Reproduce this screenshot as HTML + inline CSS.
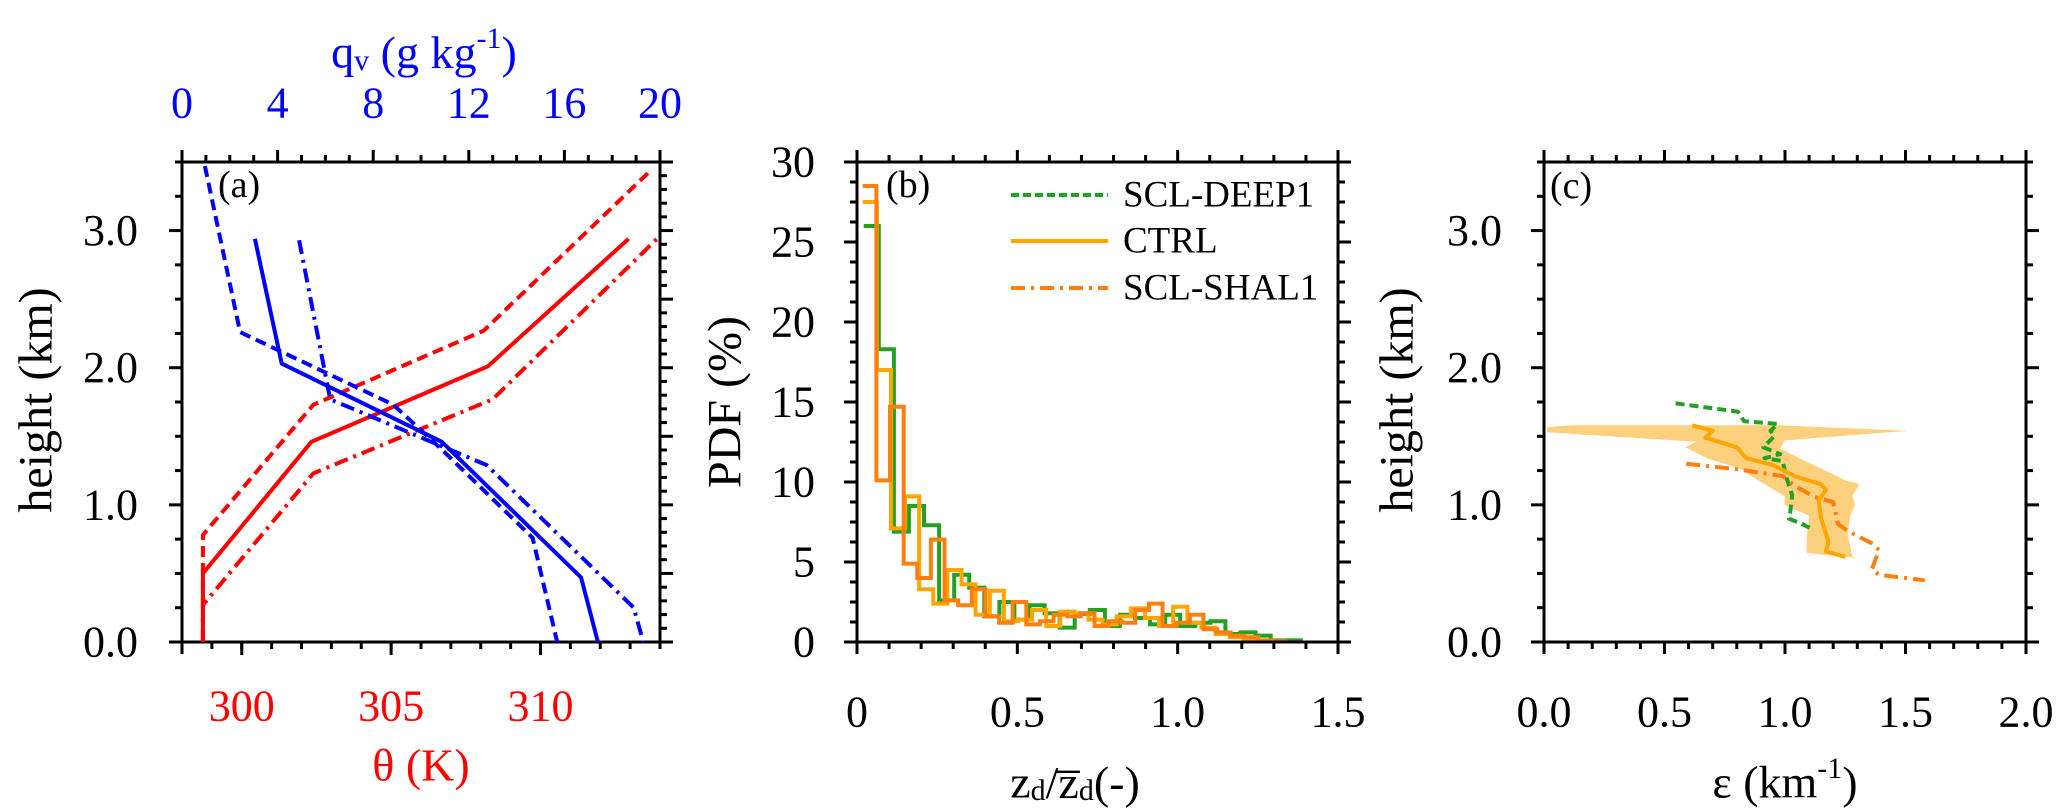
<!DOCTYPE html>
<html><head><meta charset="utf-8"><style>
html,body{margin:0;padding:0;background:#fff;}
svg{display:block;font-family:"Liberation Serif","DejaVu Serif",serif;}
</style></head><body>
<svg id="fig" width="2067" height="808" viewBox="0 0 2067 808" xmlns="http://www.w3.org/2000/svg">
<g id="pa"></g>
<g id="pb"></g>
<g id="pc"></g>
</svg>
<script>
// ---------- Panel (a) data ----------
const thetaCtrlT = [298.7, 298.7, 302.33, 308.24, 312.95];
const thetaCtrlH = [0, 0.5, 1.46, 2.01, 2.94];
const thetaDeepT = [298.7, 298.7, 302.4, 308.1, 313.7];
const thetaDeepH = [0, 0.78, 1.73, 2.27, 3.44];
const thetaShalT = [298.7, 298.7, 302.4, 308.4, 313.9];
const thetaShalH = [0, 0.27, 1.23, 1.77, 2.94];
const qvCtrlQ = [3.05, 4.17, 10.87, 16.7, 17.4];
const qvCtrlH = [2.94, 2.03, 1.46, 0.47, 0];
const qvDeepQ = [0.96, 2.43, 8.84, 10.8, 14.67, 15.7];
const qvDeepH = [3.47, 2.26, 1.73, 1.415, 0.76, 0];
const qvShalQ = [4.9, 6.2, 12.75, 18.9, 19.3];
const qvShalH = [2.93, 1.77, 1.29, 0.25, 0];
const heightTicksA = ["0.0", "1.0", "2.0", "3.0"];
const thetaTickLabels = ["300", "305", "310"];
const qvTickLabels = ["0", "4", "8", "12", "16", "20"];

// ---------- Panel (b) data ----------
const pdfShal = [28.5, 10.1, 14.7, 4.9, 4.0, 6.4, 2.6, 2.3, 3.3, 1.6, 1.2, 2.5, 1.1, 1.3, 1.7, 1.6, 1.8, 1.0, 1.3, 1.2, 2.0, 2.4, 1.0, 1.2, 1.7, 0.8, 0.6, 0.4, 0.3, 0.1, 0.05];
const pdfCtrl = [27.5, 17.0, 7.1, 9.1, 3.3, 2.4, 4.5, 3.6, 1.7, 3.2, 1.3, 1.4, 2.0, 1.0, 1.9, 1.8, 1.4, 1.1, 1.6, 2.1, 1.5, 1.0, 2.2, 1.2, 0.9, 0.5, 0.3, 0.2, 0.1];
const pdfDeep = [26.0, 18.3, 6.9, 8.5, 7.3, 2.6, 4.2, 3.4, 1.6, 2.5, 1.4, 2.3, 1.8, 0.9, 1.75, 2.0, 1.0, 1.7, 1.5, 1.1, 1.7, 1.0, 1.2, 1.3, 0.5, 0.6, 0.4, 0.1, 0.1];
const binStart = [0.018, 0.018, 0.021];
const binWidth = [0.0425, 0.044, 0.047];
const pdfTickLabels = ["0", "5", "10", "15", "20", "25", "30"];
const zdTickLabels = ["0", "0.5", "1.0", "1.5"];
const legendLabels = ["SCL-DEEP1", "CTRL", "SCL-SHAL1"];

// ---------- Panel (c) data ----------
const epsDeepE = [0.546, 0.804, 0.83, 0.97, 0.94, 0.955, 0.91, 0.98, 0.915, 0.99, 1.006, 1.03, 1.02, 1.016, 1.07, 1.117];
const epsDeepH = [1.74, 1.68, 1.61, 1.59, 1.54, 1.50, 1.42, 1.37, 1.34, 1.32, 1.2, 1.07, 0.92, 0.9, 0.86, 0.82];
const epsCtrlE = [0.615, 0.70, 0.67, 0.80, 0.84, 0.95, 1.04, 1.15, 1.17, 1.14, 1.15, 1.18, 1.17, 1.25];
const epsCtrlH = [1.58, 1.54, 1.49, 1.42, 1.34, 1.29, 1.21, 1.15, 1.11, 1.03, 0.90, 0.73, 0.66, 0.62];
const epsShalE = [0.59, 0.80, 0.99, 1.04, 1.12, 1.20, 1.22, 1.26, 1.36, 1.39, 1.36, 1.39, 1.58];
const epsShalH = [1.30, 1.26, 1.21, 1.14, 1.06, 1.02, 0.86, 0.81, 0.72, 0.67, 0.53, 0.49, 0.45];
const bandE = [0.013, 0.114, 0.97, 1.51, 1.0, 0.98, 1.06, 1.19, 1.25, 1.31, 1.28, 1.29, 1.27, 1.26, 1.28, 1.30, 1.09, 1.09, 1.10, 0.997, 1.0, 0.86, 0.82, 0.675, 0.587, 0.63, 0.013];
const bandH = [1.567, 1.58, 1.58, 1.54, 1.47, 1.41, 1.34, 1.23, 1.18, 1.15, 1.07, 1.0, 0.92, 0.78, 0.62, 0.61, 0.65, 0.75, 0.92, 1.0, 1.06, 1.21, 1.26, 1.34, 1.42, 1.46, 1.53];
const heightTicksC = ["0.0", "1.0", "2.0", "3.0"];
const epsTickLabels = ["0.0", "0.5", "1.0", "1.5", "2.0"];

const NS = "http://www.w3.org/2000/svg";
const TOP = 162, BOT = 642;
function mk(parent, tag, attrs, text) {
  const e = document.createElementNS(NS, tag);
  for (const k in attrs) e.setAttribute(k, attrs[k]);
  if (text !== undefined) e.textContent = text;
  parent.appendChild(e);
  return e;
}
function lin(d0, d1, p0, p1) { return v => p0 + (v - d0) / (d1 - d0) * (p1 - p0); }
function frame(g, x0, x1) {
  const r = mk(g, "rect", {x: x0, y: TOP, width: x1 - x0, height: BOT - TOP, fill: "none", stroke: "#000", "stroke-width": 3});
  
  
}
function ticksX(g, sx, from, to, step, majorEvery, y, dir, name) {
  const n = Math.round((to - from) / step);
  for (let i = 0; i <= n; i++) {
    const v = from + i * step, x = sx(v);
    const maj = (i % majorEvery) === 0;
    const L = maj ? 12 : 7;
    const t = mk(g, "line", {x1: x, x2: x, y1: y, y2: y + dir * L, stroke: "#000", "stroke-width": 3});
    
    
  }
}
function ticksY(g, sy, from, to, step, majorEvery, x, dir, name) {
  const n = Math.round((to - from) / step);
  for (let i = 0; i <= n; i++) {
    const v = from + i * step, y = sy(v);
    const maj = (i % majorEvery) === 0;
    const L = maj ? 13 : 7;
    const t = mk(g, "line", {x1: x, x2: x + dir * L, y1: y, y2: y, stroke: "#000", "stroke-width": 3});
    
    
  }
}
function label(g, x, y, txt, size, anchor, fill, name) {
  const t = mk(g, "text", {x: x, y: y, "font-size": size, "text-anchor": anchor, fill: fill || "#000", "dominant-baseline": "central"}, txt);
  
  
  return t;
}
function poly(g, xs, ys, sx, sy, color, dash, name) {
  const pts = xs.map((v, i) => sx(v).toFixed(1) + "," + sy(ys[i]).toFixed(1)).join(" ");
  const p = mk(g, "polyline", {points: pts, fill: "none", stroke: color, "stroke-width": 4, "stroke-linejoin": "round"});
  if (dash) p.setAttribute("stroke-dasharray", dash);
  
  
}
const DASH = "11,6", DASHDOT = "14,6,3,6";

// ================= Panel (a) =================
(function () {
  const g = document.getElementById("pa");
  const X0 = 182, X1 = 660;
  const sy = lin(0, 3.5, BOT, TOP);
  const sT = lin(298, 314, X0, X1);
  const sQ = lin(0, 20, X0, X1);
  frame(g, X0, X1);
  ticksY(g, sy, 0, 3.5, 0.25, 4, X0, -1, "y-tick-left");
  ticksY(g, sy, 0, 3.5, 0.1, 5, X1, 1, "y-tick-right");
  ticksX(g, sT, 298, 314, 1, 100, BOT, 1, "theta-tick");
  [300, 305, 310].forEach(v => { const t = mk(g, "line", {x1: sT(v), x2: sT(v), y1: BOT, y2: BOT + 13, stroke: "#000", "stroke-width": 3});   });
  ticksX(g, sQ, 0, 20, 1, 4, TOP, -1, "qv-tick");
  heightTicksA.forEach((s, i) => label(g, X0 - 44, sy(i), s, 44, "end", "#000", "y-tick-label"));
  thetaTickLabels.forEach((s, i) => label(g, sT(300 + 5 * i), 706, s, 44, "middle", "#ff0000", "theta-tick-label"));
  qvTickLabels.forEach((s, i) => label(g, sQ(4 * i), 103, s, 44, "middle", "#0000ff", "qv-tick-label"));
  const yt = label(g, 0, 0, "height (km)", 48, "middle", "#000", "y-axis-title");
  yt.setAttribute("transform", "translate(36,400) rotate(-90)");
  label(g, 421, 765, "θ (K)", 46, "middle", "#ff0000", "theta-axis-title");
  const qt = label(g, 424, 52, "", 46, "middle", "#0000ff", "qv-axis-title");
  qt.innerHTML = 'q<tspan font-size="30" dy="8">v</tspan><tspan dy="-8"> (g kg</tspan><tspan font-size="30" dy="-14">-1</tspan><tspan dy="14">)</tspan>';
  label(g, 218, 185, "(a)", 38, "start", "#000", "panel-label-a");
  poly(g, thetaCtrlT, thetaCtrlH, sT, sy, "#ff0000", null, "theta-ctrl-line");
  poly(g, thetaDeepT, thetaDeepH, sT, sy, "#ff0000", DASH, "theta-deep-line");
  poly(g, thetaShalT, thetaShalH, sT, sy, "#ff0000", DASHDOT, "theta-shal-line");
  poly(g, qvCtrlQ, qvCtrlH, sQ, sy, "#0000ff", null, "qv-ctrl-line");
  poly(g, qvDeepQ, qvDeepH, sQ, sy, "#0000ff", DASH, "qv-deep-line");
  poly(g, qvShalQ, qvShalH, sQ, sy, "#0000ff", DASHDOT, "qv-shal-line");
})();

// ================= Panel (b) =================
(function () {
  const g = document.getElementById("pb");
  const X0 = 857, X1 = 1338;
  const sx = lin(0, 1.5, X0, X1);
  const sy = lin(0, 30, BOT, TOP);
  const series = [pdfShal, pdfCtrl, pdfDeep];
  const colors = ["#ff7f0e", "#ffa500", "#22a022"];
  const names = ["hist-scl-shal1", "hist-ctrl", "hist-scl-deep1"];
  [2, 1, 0].forEach(k => {
    const vals = series[k], s0 = binStart[k], w = binWidth[k];
    let d = "M" + sx(s0).toFixed(1) + "," + sy(vals[0]).toFixed(1);
    vals.forEach((v, i) => {
      if (i > 0) d += " V" + sy(v).toFixed(1);
      d += " H" + sx(s0 + (i + 1) * w).toFixed(1);
    });
    d += " V" + sy(0).toFixed(1);
    const p = mk(g, "path", {d: d, fill: "none", stroke: colors[k], "stroke-width": 4});
    
    
  });
  frame(g, X0, X1);
  ticksY(g, sy, 0, 30, 1.25, 4, X0, -1, "y-tick-left");
  ticksY(g, sy, 0, 30, 1.25, 4, X1, 1, "y-tick-right");
  ticksX(g, sx, 0, 1.5, 0.1, 5, BOT, 1, "x-tick-bottom");
  ticksX(g, sx, 0, 1.5, 0.1, 5, TOP, -1, "x-tick-top");
  pdfTickLabels.forEach((s, i) => label(g, X0 - 42, sy(5 * i), s, 44, "end", "#000", "y-tick-label"));
  zdTickLabels.forEach((s, i) => label(g, sx(0.5 * i), 712, s, 44, "middle", "#000", "x-tick-label"));
  const yt = label(g, 0, 0, "PDF (%)", 48, "middle", "#000", "y-axis-title");
  yt.setAttribute("transform", "translate(725,402) rotate(-90)");
  const xt = label(g, 1075, 782, "", 46, "middle", "#000", "x-axis-title");
  xt.innerHTML = 'z<tspan font-size="30" dy="8">d</tspan><tspan dy="-8">/z̅</tspan><tspan font-size="30" dy="8">d</tspan><tspan dy="-8">(-)</tspan>';
  label(g, 886, 185, "(b)", 38, "start", "#000", "panel-label-b");
  const lc = ["#22a022", "#ffa500", "#ff7f0e"], ld = ["8,4", null, DASHDOT];
  const ly = [195, 241, 288];
  legendLabels.forEach((s, i) => {
    const l = mk(g, "line", {x1: 1011, x2: 1108, y1: ly[i], y2: ly[i], stroke: lc[i], "stroke-width": 4});
    if (ld[i]) l.setAttribute("stroke-dasharray", ld[i]);
    
    
    label(g, 1123, ly[i], s, 37, "start", "#000", "legend-entry");
  });
})();

// ================= Panel (c) =================
(function () {
  const g = document.getElementById("pc");
  const X0 = 1544, X1 = 2026;
  const sx = lin(0, 2, X0, X1);
  const sy = lin(0, 3.5, BOT, TOP);
  const pts = bandE.map((v, i) => sx(v).toFixed(1) + "," + sy(bandH[i]).toFixed(1)).join(" ");
  const b = mk(g, "polygon", {points: pts, fill: "#fdd07e", stroke: "none"});
  
  
  poly(g, epsDeepE, epsDeepH, sx, sy, "#22a022", "9,5", "eps-deep-line");
  poly(g, epsCtrlE, epsCtrlH, sx, sy, "#ffa500", null, "eps-ctrl-line");
  poly(g, epsShalE, epsShalH, sx, sy, "#ff7f0e", DASHDOT, "eps-shal-line");
  frame(g, X0, X1);
  ticksY(g, sy, 0, 3.5, 0.25, 4, X0, -1, "y-tick-left");
  ticksY(g, sy, 0, 3.5, 0.25, 4, X1, 1, "y-tick-right");
  ticksX(g, sx, 0, 2, 0.1, 5, BOT, 1, "x-tick-bottom");
  ticksX(g, sx, 0, 2, 0.1, 5, TOP, -1, "x-tick-top");
  heightTicksC.forEach((s, i) => label(g, X0 - 42, sy(i), s, 44, "end", "#000", "y-tick-label"));
  epsTickLabels.forEach((s, i) => label(g, sx(0.5 * i), 712, s, 44, "middle", "#000", "x-tick-label"));
  const yt = label(g, 0, 0, "height (km)", 48, "middle", "#000", "y-axis-title");
  yt.setAttribute("transform", "translate(1397,400) rotate(-90)");
  const xt = label(g, 1785, 782, "", 46, "middle", "#000", "x-axis-title");
  xt.innerHTML = 'ε (km<tspan font-size="30" dy="-14">-1</tspan><tspan dy="14">)</tspan>';
  label(g, 1550, 186, "(c)", 38, "start", "#000", "panel-label-c");
})();
</script>
</body></html>
